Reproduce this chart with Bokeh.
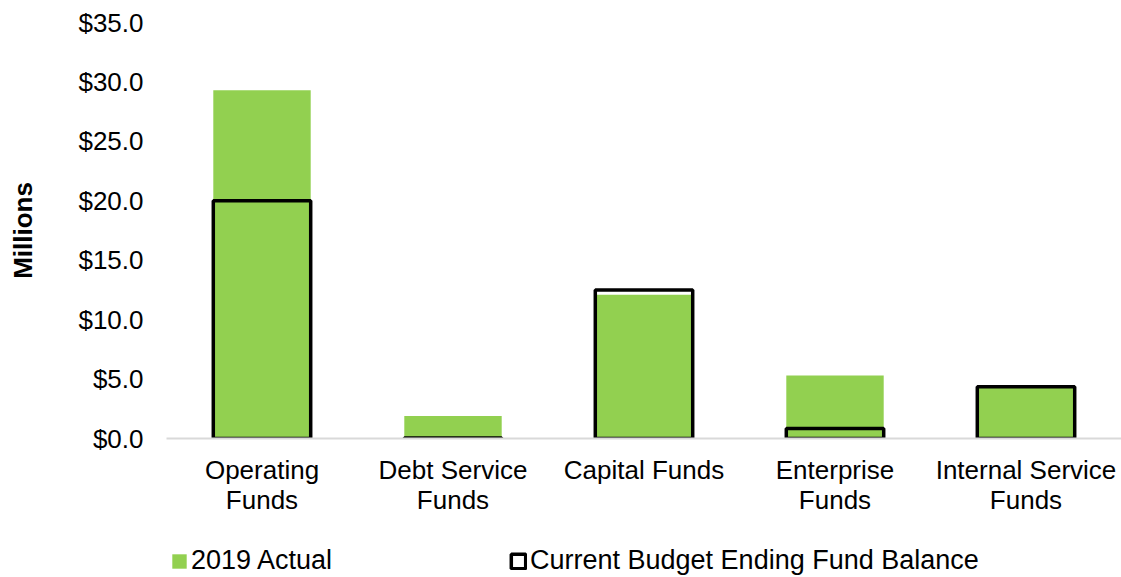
from bokeh.plotting import figure
from bokeh.layouts import column
from bokeh.models import (ColumnDataSource, Range1d, FixedTicker, NumeralTickFormatter,
                          Legend, LegendItem)
from bokeh.embed import file_html
from bokeh.resources import INLINE

categories = ["Operating\nFunds", "Debt Service\nFunds", "Capital Funds",
              "Enterprise\nFunds", "Internal Service\nFunds"]
actual_2019 = [29.3, 1.9, 12.1, 5.3, 4.3]
budget_ending = [20.0, 0.05, 12.5, 0.85, 4.35]
y_ticks = [0, 5, 10, 15, 20, 25, 30, 35]

GREEN = "#92D050"
FONT = "Liberation Sans"

src = ColumnDataSource(dict(cat=categories, actual=actual_2019, budget=budget_ending))

p = figure(x_range=categories, y_range=Range1d(0, 35), width=1121, height=540,
           output_backend="svg", toolbar_location=None,
           min_border_left=166, min_border_right=0, min_border_top=22, min_border_bottom=102)
p.outline_line_color = None
p.xgrid.grid_line_color = None
p.ygrid.grid_line_color = None

bar_kw = dict(x="cat", width=0.51, source=src)
actual_style = dict(fill_color=GREEN, line_color=None)
budget_style = dict(fill_alpha=0, line_color="black", line_width=3.5)

p.vbar(top="actual", **bar_kw, **actual_style)
p.vbar(top="budget", **bar_kw, **budget_style)

p.yaxis.ticker = FixedTicker(ticks=y_ticks)
p.yaxis.formatter = NumeralTickFormatter(format="$0.0")
p.yaxis.axis_line_color = None
p.yaxis.major_tick_line_color = None
p.yaxis.minor_tick_line_color = None
p.yaxis.major_tick_out = 0
p.yaxis.major_tick_in = 0
p.yaxis.major_label_text_font = FONT
p.yaxis.major_label_text_font_size = "26px"
p.yaxis.major_label_text_color = "black"
p.yaxis.major_label_standoff = 23
p.yaxis.axis_label = "Millions"
p.yaxis.axis_label_text_font = FONT
p.yaxis.axis_label_text_font_style = "bold"
p.yaxis.axis_label_text_font_size = "26px"
p.yaxis.axis_label_text_color = "black"
p.yaxis.axis_label_standoff = 37

p.xaxis.axis_line_color = "#d9d9d9"
p.xaxis.axis_line_width = 2
p.xaxis.major_tick_line_color = None
p.xaxis.minor_tick_line_color = None
p.xaxis.major_tick_out = 0
p.xaxis.major_tick_in = 0
p.xaxis.major_label_text_font = FONT
p.xaxis.major_label_text_font_size = "26px"
p.xaxis.major_label_text_color = "black"
p.xaxis.major_label_text_line_height = 1.0
p.xaxis.major_label_standoff = 16

# legend strip below the chart
pl = figure(x_range=categories, y_range=Range1d(0, 1), width=1121, height=37,
            output_backend="svg", toolbar_location=None, min_border=0)
pl.axis.visible = False
pl.grid.visible = False
pl.outline_line_color = None
g1 = pl.vbar(top="actual", **bar_kw, **actual_style, visible=False)
g2 = pl.vbar(top="budget", **bar_kw, **budget_style, visible=False)

def make_legend(label, renderer, loc):
    lg = Legend(items=[LegendItem(label=label, renderers=[renderer])], location=loc,
                orientation="horizontal", glyph_width=18, glyph_height=18,
                label_standoff=3, padding=0, margin=0, spacing=0,
                border_line_alpha=0, background_fill_alpha=0,
                label_text_font=FONT, label_text_font_size="27px", label_text_color="black",
                label_text_line_height=1.0)
    pl.add_layout(lg, "center")

make_legend("2019 Actual", g1, (4, 1))
make_legend("Current Budget Ending Fund Balance", g2, (343, 1))

layout = column(p, pl, spacing=0)
open("out.html", "w").write(file_html(layout, INLINE))
